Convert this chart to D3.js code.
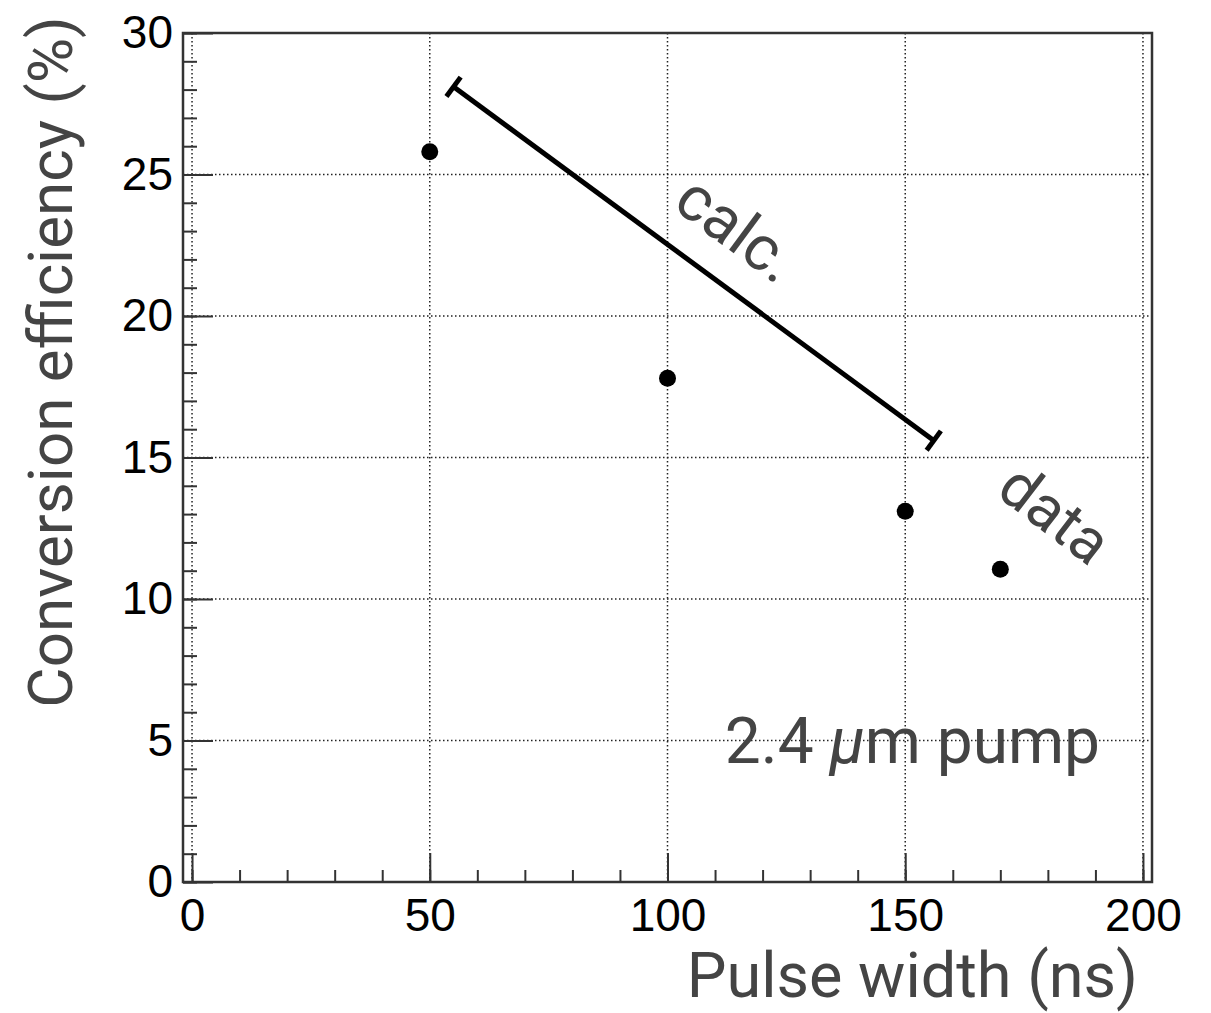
<!DOCTYPE html>
<html>
<head>
<meta charset="utf-8">
<script src="https://cdn.jsdelivr.net/npm/d3@7"></script>
<style>
  body { margin: 0; background: #fff; }
  svg { display: block; }
</style>
</head>
<body>
<script>
// measured data
const pulseWidth = [50, 100, 150, 170];
const efficiency = [25.8, 17.8, 13.1, 11.05];

// calculated range (segment with end bars)
const calcWidth = [55, 156];
const calcEff = [28.1, 15.6];

const xMajor = [0, 50, 100, 150, 200];
const xMinor = d3.range(0, 201, 10);
const yMajor = [0, 5, 10, 15, 20, 25, 30];
const yMinor = d3.range(0, 31, 1);

const width = 1211;
const height = 1013;

const svg = d3.select("body")
  .append("svg")
  .attr("width", width)
  .attr("height", height);

const x = d3.scaleLinear().domain([-1.9, 201.9]).range([183, 1152]);
const y = d3.scaleLinear().domain([0, 30]).range([882, 33]);

const [x0, x1] = x.range();
const [y0, y1] = y.range();

// grid
const grid = svg.append("g")
  .attr("stroke", "#222")
  .attr("stroke-width", 1.5)
  .attr("stroke-dasharray", "1.5,2.5");

grid.selectAll(".gx")
  .data(xMajor)
  .enter()
  .append("line")
  .attr("x1", d => x(d))
  .attr("x2", d => x(d))
  .attr("y1", y1)
  .attr("y2", y0);

grid.selectAll(".gy")
  .data(yMajor.filter(d => d > 0 && d < 30))
  .enter()
  .append("line")
  .attr("x1", x0)
  .attr("x2", x1)
  .attr("y1", d => y(d))
  .attr("y2", d => y(d));

// axes ticks (inside the frame)
function styleAxis(g) {
  g.select(".domain").remove();
  g.selectAll(".tick line").attr("stroke", "#333").attr("stroke-width", 2);
}

svg.append("g")
  .attr("transform", `translate(0,${y0})`)
  .call(d3.axisTop(x).tickValues(xMinor).tickSize(12).tickFormat(""))
  .call(styleAxis);

svg.append("g")
  .attr("transform", `translate(0,${y0})`)
  .call(d3.axisTop(x).tickValues(xMajor).tickSize(29).tickFormat(""))
  .call(styleAxis);

svg.append("g")
  .attr("transform", `translate(${x0},0)`)
  .call(d3.axisRight(y).tickValues(yMinor).tickSize(14).tickFormat(""))
  .call(styleAxis);

svg.append("g")
  .attr("transform", `translate(${x0},0)`)
  .call(d3.axisRight(y).tickValues(yMajor).tickSize(30).tickFormat(""))
  .call(styleAxis);

// tick labels
const xLab = svg.append("g")
  .attr("transform", `translate(0,${y0})`)
  .call(d3.axisBottom(x).tickValues(xMajor).tickSize(0).tickPadding(16).tickFormat(d3.format("d")));
xLab.select(".domain").remove();
xLab.selectAll("text")
  .attr("font-family", "Liberation Sans, Arial, sans-serif")
  .attr("font-size", 46)
  .attr("fill", "#000");

const yLab = svg.append("g")
  .attr("transform", `translate(${x0 - 10},0)`)
  .call(d3.axisLeft(y).tickValues(yMajor).tickSize(0).tickPadding(0).tickFormat(d3.format("d")));
yLab.select(".domain").remove();
yLab.selectAll("text")
  .attr("font-family", "Liberation Sans, Arial, sans-serif")
  .attr("font-size", 46)
  .attr("fill", "#000");

// frame
svg.append("rect")
  .attr("x", x0)
  .attr("y", y1)
  .attr("width", x1 - x0)
  .attr("height", y0 - y1)
  .attr("fill", "none")
  .attr("stroke", "#333")
  .attr("stroke-width", 2.5);

// calc segment
const px = calcWidth.map(d => x(d));
const py = calcEff.map(d => y(d));
svg.append("line")
  .attr("x1", px[0]).attr("y1", py[0])
  .attr("x2", px[1]).attr("y2", py[1])
  .attr("stroke", "#000")
  .attr("stroke-width", 5);

const dx = px[1] - px[0], dy = py[1] - py[0];
const len = Math.hypot(dx, dy);
const nx = -dy / len, ny = dx / len;
const capHalf = 12;
svg.selectAll(".cap")
  .data([0, 1])
  .enter()
  .append("line")
  .attr("x1", i => px[i] - nx * capHalf)
  .attr("y1", i => py[i] - ny * capHalf)
  .attr("x2", i => px[i] + nx * capHalf)
  .attr("y2", i => py[i] + ny * capHalf)
  .attr("stroke", "#000")
  .attr("stroke-width", 5);

// data points
svg.selectAll(".dot")
  .data(pulseWidth)
  .enter()
  .append("circle")
  .attr("cx", d => x(d))
  .attr("cy", (d, i) => y(efficiency[i]))
  .attr("r", 8.5)
  .attr("fill", "#000");

// annotations
const annFont = "Roboto, 'Noto Sans', sans-serif";
const angle = Math.atan2(dy, dx) * 180 / Math.PI;

svg.append("text")
  .attr("transform", `translate(737,229) rotate(${angle})`)
  .attr("text-anchor", "middle")
  .attr("dominant-baseline", "central")
  .attr("font-family", annFont)
  .attr("font-size", 63)
  .attr("fill", "#444")
  .text("calc.");

svg.append("text")
  .attr("transform", `translate(1055,514) rotate(${angle + 1})`)
  .attr("text-anchor", "middle")
  .attr("dominant-baseline", "central")
  .attr("font-family", annFont)
  .attr("font-size", 61)
  .attr("fill", "#444")
  .text("data");

const pump = svg.append("text")
  .attr("x", 1100)
  .attr("y", 763)
  .attr("text-anchor", "end")
  .attr("font-family", annFont)
  .attr("font-size", 64)
  .attr("fill", "#444");
pump.append("tspan").text("2.4 ");
pump.append("tspan").attr("font-style", "italic").text("\u03BC");
pump.append("tspan").text("m pump");

// axis titles
svg.append("text")
  .attr("x", 1138)
  .attr("y", 997)
  .attr("text-anchor", "end")
  .attr("font-family", annFont)
  .attr("font-size", 63)
  .attr("fill", "#444")
  .text("Pulse width (ns)");

svg.append("text")
  .attr("transform", "translate(72,362) rotate(-90)")
  .attr("text-anchor", "middle")
  .attr("font-family", annFont)
  .attr("font-size", 62)
  .attr("fill", "#444")
  .text("Conversion efficiency (%)");
</script>
</body>
</html>
